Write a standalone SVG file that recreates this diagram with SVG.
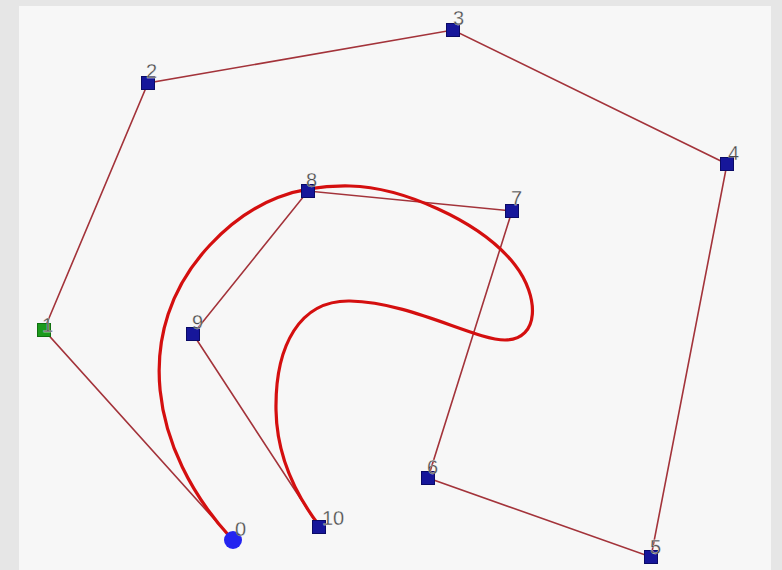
<svg xmlns="http://www.w3.org/2000/svg" width="782" height="570" viewBox="0 0 782 570">
<style>
.poly{fill:none;stroke:#a3333a;stroke-width:1.6}
.curve{fill:none;stroke:#d40f0f;stroke-width:3.2;stroke-linecap:round}
.pt{fill:#16169a;stroke:#0a0a66;stroke-width:1}
.lbl{font-family:"Liberation Sans",Arial,sans-serif;font-size:20px;fill:#4a4a4a;stroke:#f7f7f7;stroke-width:0.3}
</style>
<rect x="0" y="0" width="782" height="570" fill="#e6e6e6"/>
<rect x="19" y="6" width="752" height="564" fill="#f7f7f7"/>
<g id="connectors">
<polyline class="poly" points="233,540 44,330 148,83 453,30 727,164 651,557 428,478 512,211 308,191 193,334 319,527"/>
<path class="curve" d="M231,538 C150,450 130,330 210,245 C254,198 300,185 350,186 C400,187 480,220 515,265 C539.5,296.5 540,340 505,340 C475,340 410,302 350,301 C300,300 275,345 276,410 C276.8,460 300,500 318,524"/>
</g>
<g id="p0"><circle cx="233" cy="540" r="9" fill="#2424f0"/><text class="lbl" x="235" y="536">0</text></g>
<g id="p1"><rect class="pt" x="37.5" y="323.5" width="13" height="13" style="fill:#1c9a1c;stroke:#107010"/><text class="lbl" x="42" y="332">1</text></g>
<g id="p2"><rect class="pt" x="141.5" y="76.5" width="13" height="13"/><text class="lbl" x="146" y="78">2</text></g>
<g id="p3"><rect class="pt" x="446.5" y="23.5" width="13" height="13"/><text class="lbl" x="453" y="25">3</text></g>
<g id="p4"><rect class="pt" x="720.5" y="157.5" width="13" height="13"/><text class="lbl" x="728" y="160">4</text></g>
<g id="p5"><rect class="pt" x="644.5" y="550.5" width="13" height="13"/><text class="lbl" x="650" y="554">5</text></g>
<g id="p6"><rect class="pt" x="421.5" y="471.5" width="13" height="13"/><text class="lbl" x="427" y="474">6</text></g>
<g id="p7"><rect class="pt" x="505.5" y="204.5" width="13" height="13"/><text class="lbl" x="511" y="205">7</text></g>
<g id="p8"><rect class="pt" x="301.5" y="184.5" width="13" height="13"/><text class="lbl" x="306" y="187">8</text></g>
<g id="p9"><rect class="pt" x="186.5" y="327.5" width="13" height="13"/><text class="lbl" x="192" y="329">9</text></g>
<g id="p10"><rect class="pt" x="312.5" y="520.5" width="13" height="13"/><text class="lbl" x="322" y="525">10</text></g>
</svg>
